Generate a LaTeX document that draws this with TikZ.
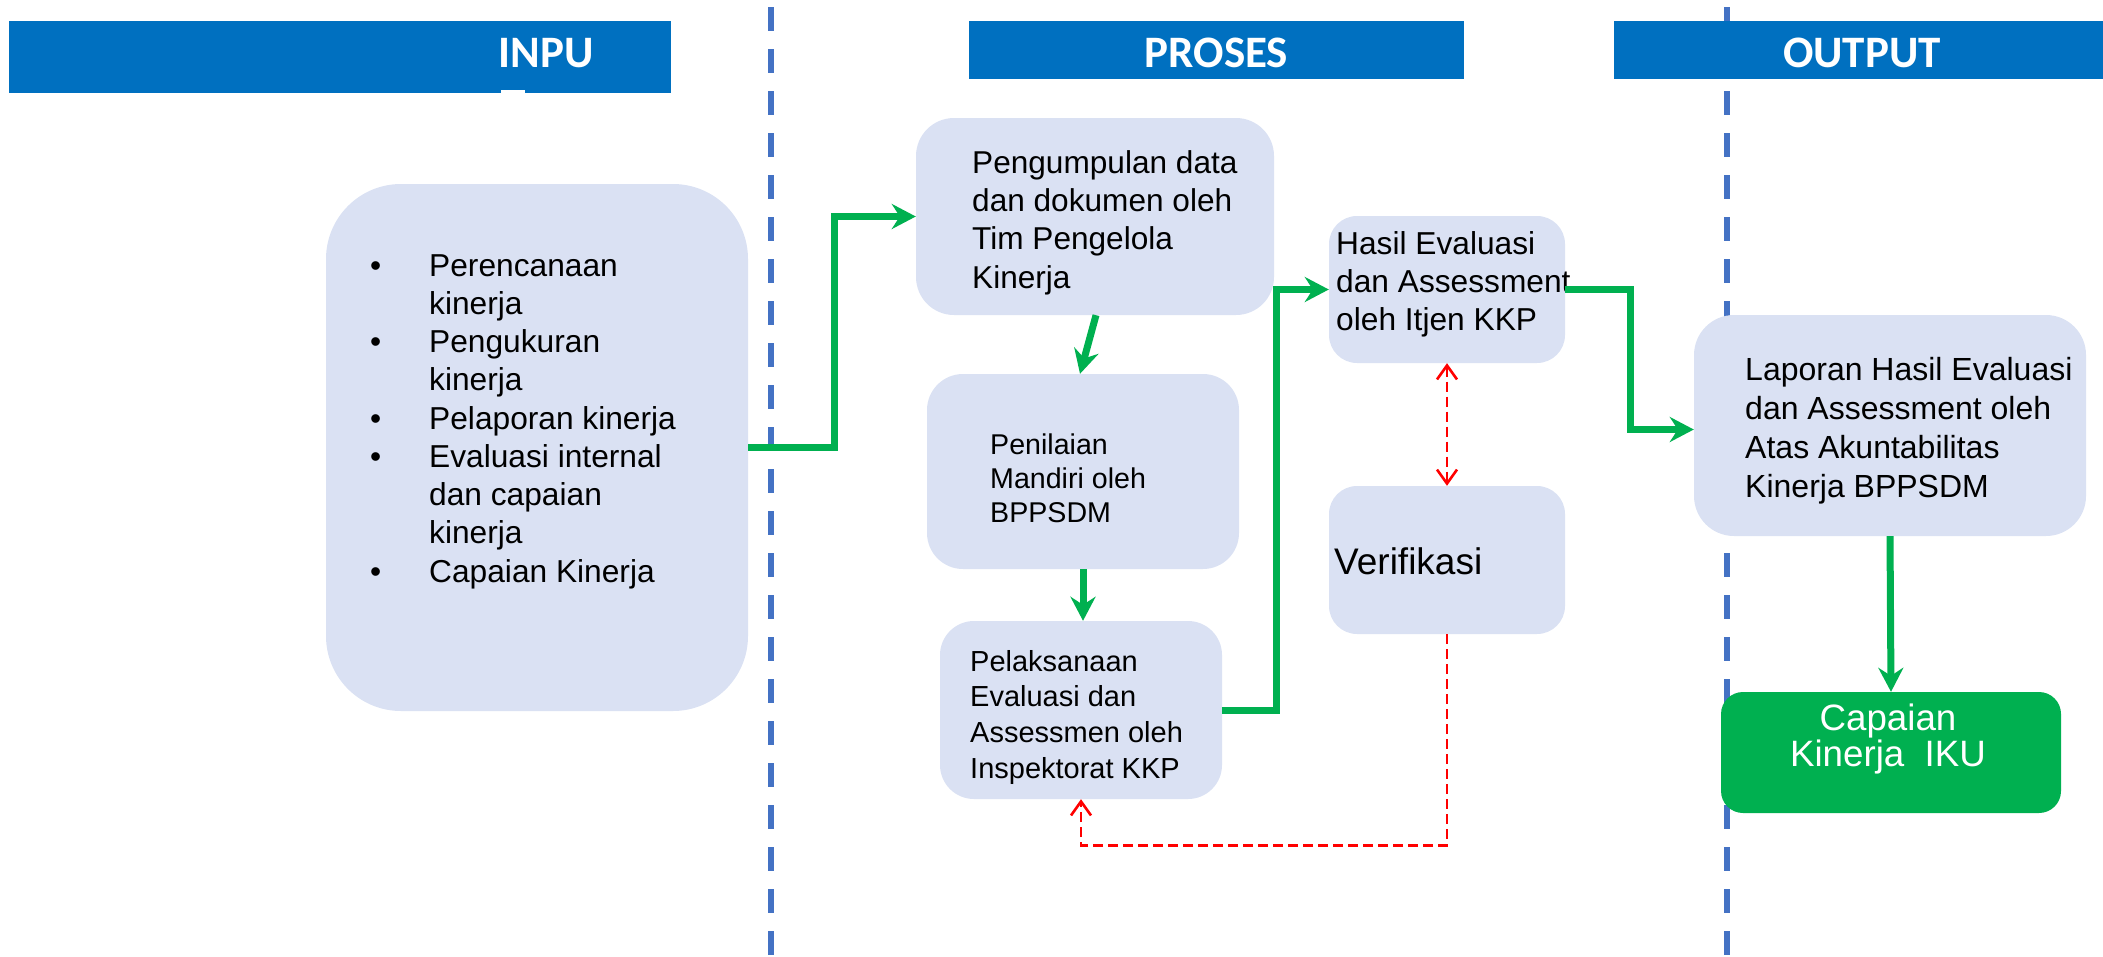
\documentclass[tikz,border=0pt]{standalone}
\usepackage{fontspec}
\setmainfont{Liberation Sans}
\newfontfamily\hdfont{Carlito}
\usetikzlibrary{arrows.meta}
\definecolor{hdblue}{HTML}{0070C0}
\definecolor{boxfill}{HTML}{DAE1F3}
\definecolor{okgreen}{HTML}{00B050}
\definecolor{sepblue}{HTML}{4472C4}
\newcommand\fsz[2]{\fontsize{#1}{#2}\selectfont}
\newcommand\bul{\makebox[59pt][l]{\textbullet}}
\newcommand\ind{\hspace*{59pt}}
\tikzset{vtip/.tip={Straight Barb[length=14pt,width=20pt]}}

\begin{document}
\begin{tikzpicture}[x=1pt,y=-1pt,
  header/.style={fill=hdblue, draw=none, inner sep=0, anchor=north west},
  hdtext/.style={text=white, font=\hdfont\bfseries\fsz{45}{50}, inner sep=0, anchor=base},
  panel/.style={fill=boxfill, draw=none, rounded corners=#1, inner sep=0},
  label/.style={inner sep=0, anchor=north west, align=left},
  sep/.style={sepblue, line width=6pt, dash pattern=on 24pt off 18pt},
  flow/.style={okgreen, line width=7pt, -{Stealth[length=24pt,width=25pt,inset=8pt]}},
  check/.style={red, line width=2.6pt, dash pattern=on 10pt off 5pt}
]
\useasboundingbox (0,0) rectangle (2103,956);

% column separators
\draw[sep] (771,7) coordinate (s1a) -- (771,956) coordinate (s1b);
\draw[sep] (1727,7) coordinate (s2a) -- (1727,956) coordinate (s2b);

% column headers
\node[header, minimum width=662pt, minimum height=72pt] (hin) at (9,21) {};
\node[fill=white, inner sep=0, minimum width=24pt, minimum height=5pt, anchor=north west] (tick) at (501,90) {};
\node[hdtext] (tin) at (546,67) {INPU};
\node[header, minimum width=495pt, minimum height=58pt] (hpr) at (969,21) {};
\node[hdtext] (tpr) at (1216.5,67) {PROSES};
\node[header, minimum width=490pt, minimum height=58pt] (hout) at (1614,21) {};
\node[hdtext] (tout) at (1862,67) {OUTPUT};

% process boxes
\node[panel=75pt, minimum width=422pt, minimum height=527pt] (inp) at (537,447.5) {};
\node[panel=38pt, minimum width=358pt, minimum height=197pt] (peng) at (1095,216.5) {};
\node[panel=36pt, minimum width=312pt, minimum height=195pt] (penil) at (1083,471.5) {};
\node[panel=34pt, minimum width=282pt, minimum height=178pt] (pelak) at (1081,710) {};
\node[panel=28pt, minimum width=236pt, minimum height=147pt] (hasil) at (1447,289.5) {};
\node[panel=28pt, minimum width=236pt, minimum height=148pt] (verif) at (1447,560) {};
\node[panel=40pt, minimum width=392pt, minimum height=221pt] (lapor) at (1890,425.5) {};
\node[panel=22pt, minimum width=340pt, minimum height=121pt, fill=okgreen] (capai) at (1891,752.5) {};

% box texts
\node[label, font=\fsz{31.7}{38.25}] (inptext) at (370,254) {%
  \bul Perencanaan\\ \ind kinerja\\
  \bul Pengukuran\\ \ind kinerja\\
  \bul Pelaporan kinerja\\
  \bul Evaluasi internal\\ \ind dan capaian\\ \ind kinerja\\
  \bul Capaian Kinerja};
\node[label, font=\fsz{31.6}{38.3}] (pengtext) at (972,150)
  {Pengumpulan data\\dan dokumen oleh\\Tim Pengelola\\Kinerja};
\node[label, font=\fsz{28.6}{34}] (peniltext) at (990,434)
  {Penilaian\\Mandiri oleh\\BPPSDM};
\node[label, font=\fsz{29}{35.7}] (pelaktext) at (970,650)
  {Pelaksanaan\\Evaluasi dan\\Assessmen oleh\\Inspektorat KKP};
\node[label, font=\fsz{31.7}{38}] (hasiltext) at (1336,231)
  {Hasil Evaluasi\\dan Assessment\\oleh Itjen KKP};
\node[inner sep=0, anchor=base west, font=\fsz{37}{40}] (veriftext) at (1334,574) {Verifikasi};
\node[label, font=\fsz{32}{38.9}] (laportext) at (1745,357)
  {Laporan Hasil Evaluasi\\dan Assessment oleh\\Atas Akuntabilitas\\Kinerja BPPSDM};
\node[inner sep=0, anchor=north, align=center, text=white, font=\fsz{36.7}{33}] (capaitext) at (1888,704)
  {Capaian\\Kinerja\ \ IKU};

% main flow
\draw[flow] (inp.east) -- ([xshift=86pt]inp.east) |- (peng.west);
\draw[flow] ([xshift=1pt]peng.south) -- ([xshift=-3pt]penil.north);
\draw[flow] (penil.south) -- (penil.south |- pelak.north);
\draw[flow] (pelak.east) -- ([xshift=54pt]pelak.east) |- (hasil.west);
\draw[flow] (hasil.east) -- ([xshift=65pt]hasil.east) |- ([yshift=-4pt]lapor.west);
\draw[flow] (lapor.south) -- (capai.north);

% verification loop
\draw[check, vtip-vtip] (hasil.south) -- (verif.north);
\draw[check, -vtip] (verif.south) -- ([yshift=-211pt]verif.south) -| (pelak.south);
\end{tikzpicture}
\end{document}
